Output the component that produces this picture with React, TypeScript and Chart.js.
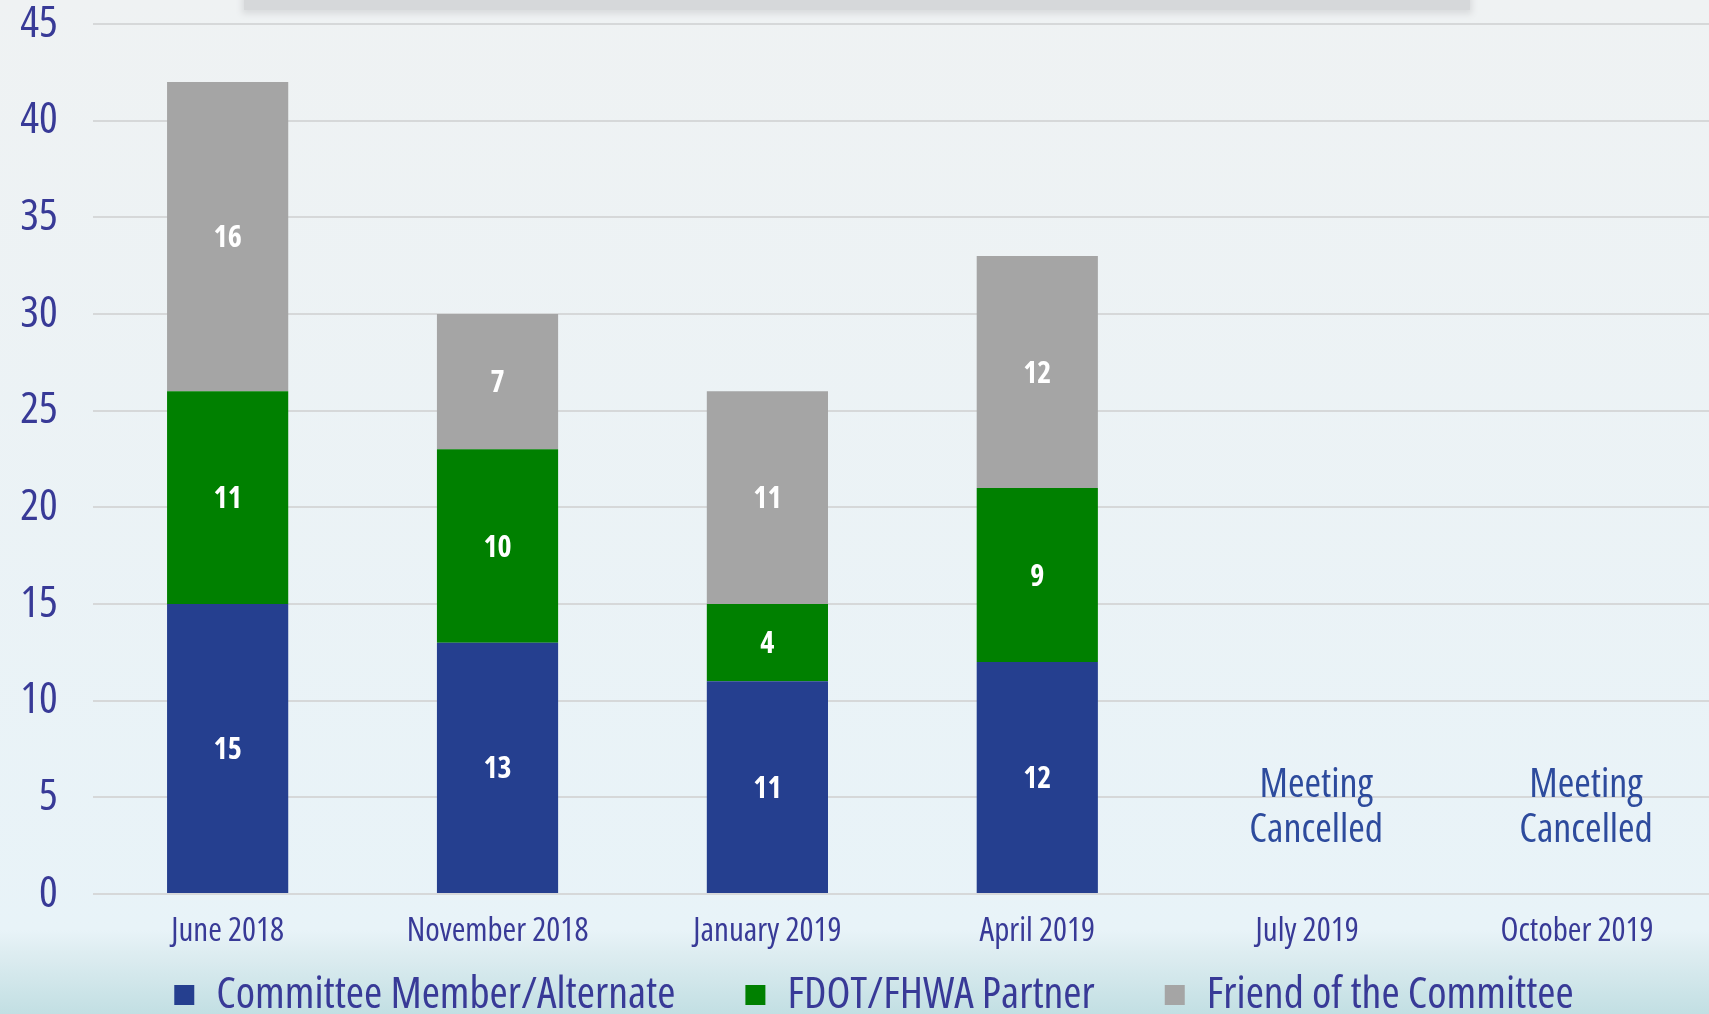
import React, { useEffect, useRef } from "react";
import { Chart, registerables } from "chart.js";

Chart.register(...registerables);

const categories = ["June 2018", "November 2018", "January 2019", "April 2019", "July 2019", "October 2019"];
const committeeMembers = [15, 13, 11, 12, null, null];
const fdotPartners = [11, 10, 4, 9, null, null];
const friends = [16, 7, 11, 12, null, null];
const notes = ["", "", "", "", "Meeting\nCancelled", "Meeting\nCancelled"];
const yTicks = [0, 5, 10, 15, 20, 25, 30, 35, 40, 45];

const AXIS_COLOR = "#383a97";

type FontPick = { family: string; stretch: string };

function pickFont(): FontPick {
  const candidates: FontPick[] = [
    { family: '"Liberation Sans Narrow"', stretch: "" },
    { family: '"Noto Sans"', stretch: "condensed" },
    { family: '"Open Sans"', stretch: "condensed" },
    { family: "Roboto", stretch: "condensed" },
    { family: '"Noto Sans"', stretch: "semi-condensed" },
    { family: '"DejaVu Sans"', stretch: "condensed" },
    { family: '"Liberation Sans"', stretch: "" },
  ];
  const c = document.createElement("canvas");
  const ctx = c.getContext("2d")!;
  const text = "Committee Member/Alternate";
  const target = 456;
  let best = candidates[candidates.length - 1];
  let bestErr = Infinity;
  for (const cand of candidates) {
    ctx.font = `${cand.stretch ? cand.stretch + " " : ""}42px ${cand.family}, monospace`;
    const w = ctx.measureText(text).width;
    ctx.font = `42px monospace`;
    const wm = ctx.measureText(text).width;
    if (Math.abs(w - wm) < 0.5) continue;
    const err = Math.abs(w - target);
    if (err < bestErr) {
      bestErr = err;
      best = cand;
    }
  }
  return best;
}

export default function App() {
  const ref = useRef<HTMLCanvasElement>(null);
  useEffect(() => {
    if (!ref.current) return;
    const fp = pickFont();
    const FAMILY = `${fp.family}, "Liberation Sans", sans-serif`;
    const w = (weight: string) => (fp.stretch ? `${weight} ${fp.stretch}` : weight);
    const fontStr = (weight: string, size: number) => `${w(weight)} ${size}px ${FAMILY}`;

    const valueLabels = {
      id: "valueLabels",
      afterDatasetsDraw(chart: any) {
        const ctx = chart.ctx;
        ctx.save();
        ctx.font = fontStr("bold", 30);
        ctx.fillStyle = "#ffffff";
        ctx.textAlign = "center";
        ctx.textBaseline = "middle";
        chart.data.datasets.forEach((ds: any, di: number) => {
          const meta = chart.getDatasetMeta(di);
          meta.data.forEach((el: any, i: number) => {
            const v = ds.data[i];
            if (v == null) return;
            ctx.fillText(String(v), el.x, (el.y + el.base) / 2 + 2);
          });
        });
        ctx.restore();
      },
    };

    const noteLabels = {
      id: "noteLabels",
      afterDatasetsDraw(chart: any) {
        const ctx = chart.ctx;
        const xs = chart.scales.x;
        const ys = chart.scales.y;
        ctx.save();
        ctx.font = fontStr("normal", 40);
        ctx.fillStyle = "#2d4b9d";
        ctx.textAlign = "center";
        ctx.textBaseline = "middle";
        notes.forEach((n, i) => {
          if (!n) return;
          const lines = n.split("\n");
          const cx = xs.getPixelForValue(i) + 9;
          const cy = ys.getPixelForValue(4.45);
          const lh = 45;
          lines.forEach((l, li) => {
            ctx.fillText(l, cx, cy + (li - (lines.length - 1) / 2) * lh);
          });
        });
        ctx.restore();
      },
    };

    const legendShift = {
      id: "legendShift",
      afterLayout(chart: any) {
        const lg = chart.legend;
        if (!lg) return;
        lg.top -= 60;
        lg.left += 18;
        lg.right += 18;
      },
    };

    const chart = new Chart(ref.current, {
      type: "bar",
      data: {
        labels: categories,
        datasets: [
          { label: "Committee Member/Alternate", data: committeeMembers, backgroundColor: "#253f8f" },
          { label: "FDOT/FHWA Partner", data: fdotPartners, backgroundColor: "#008000" },
          { label: "Friend of the Committee", data: friends, backgroundColor: "#a5a5a5" },
        ],
      },
      options: {
        responsive: false,
        animation: false,
        maintainAspectRatio: false,
        layout: { padding: 0 },
        datasets: { bar: { categoryPercentage: 1, barPercentage: 0.449 } },
        scales: {
          x: {
            stacked: true,
            grid: { display: false, drawTicks: false },
            border: { display: false },
            ticks: {
              font: { family: FAMILY, size: 33, weight: w("normal") as any },
              color: AXIS_COLOR,
              padding: 18,
            },
            afterFit: (s: any) => {
              s.height = 69;
            },
          },
          y: {
            stacked: true,
            min: 0,
            max: 45,
            afterBuildTicks: (s: any) => {
              s.ticks = yTicks.map((v) => ({ value: v }));
            },
            grid: { color: "#d6d8d9", lineWidth: 2, drawTicks: false },
            border: { display: false },
            ticks: {
              font: { family: FAMILY, size: 44, weight: w("normal") as any },
              color: AXIS_COLOR,
              padding: 35,
            },
            afterFit: (s: any) => {
              s.width = 92.7;
              s.paddingTop = 24;
              s.paddingBottom = 0;
            },
          },
        },
        plugins: {
          legend: {
            position: "bottom",
            maxHeight: 62,
            labels: {
              boxWidth: 20,
              boxHeight: 20,
              padding: 70,
              color: AXIS_COLOR,
              font: { family: FAMILY, size: 44, weight: w("normal") as any },
            },
          },
          tooltip: { enabled: false },
        },
      },
      plugins: [valueLabels, noteLabels, legendShift],
    });
    return () => chart.destroy();
  }, []);

  return (
    <div
      style={{
        position: "fixed",
        left: 0,
        top: 0,
        width: 1709,
        height: 1014,
        overflow: "hidden",
        background:
          "linear-gradient(to bottom, #eff2f3 0px, #e8f3f8 930px, #deedf1 952px, #c2dfe3 1014px)",
      }}
    >
      <div
        style={{
          position: "absolute",
          left: 244,
          top: -6,
          width: 1226,
          height: 16,
          background: "#d6d8da",
          boxShadow: "0 2px 6px 2px #d9dbdd",
        }}
      />
      <canvas
        ref={ref}
        width={1712}
        height={1025}
        style={{ position: "absolute", left: 0, top: 0, width: 1712, height: 1025 }}
      />
    </div>
  );
}
